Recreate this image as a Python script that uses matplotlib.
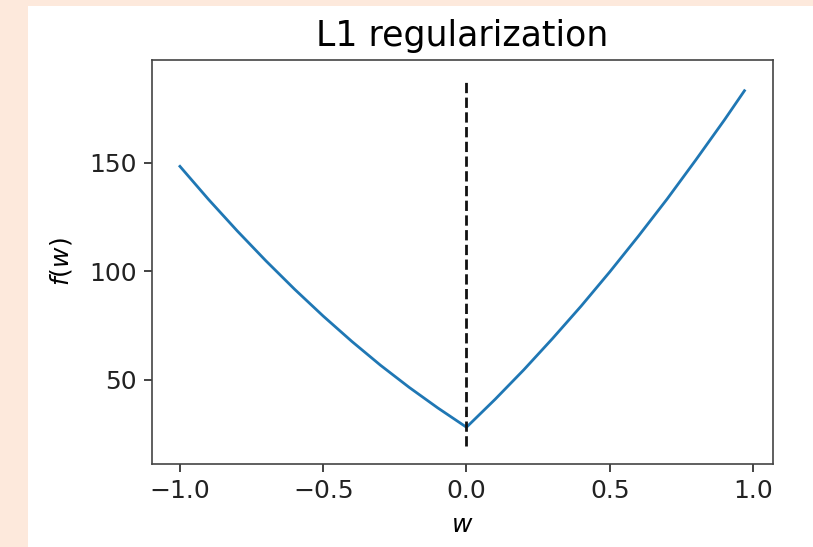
import matplotlib
matplotlib.use("Agg")
import matplotlib.pyplot as plt
from matplotlib.patches import Rectangle

# Data
w_values = [-1.0, -0.9, -0.8, -0.7, -0.6, -0.5, -0.4, -0.3, -0.2, -0.1, 0.0,
            0.1, 0.2, 0.3, 0.4, 0.5, 0.6, 0.7, 0.8, 0.9, 0.97]
f_values = [148.4, 133.1, 118.6, 104.8, 91.7, 79.3, 67.6, 56.6, 46.4, 36.9, 28.0,
            40.9, 54.5, 68.9, 83.9, 99.7, 116.2, 133.3, 151.3, 169.8, 183.3]
vline_x = 0.0
vline_ymin = 19.5
vline_ymax = 189.0
x_ticks = [-1.0, -0.5, 0.0, 0.5, 1.0]
y_ticks = [50, 100, 150]

plt.rcParams['font.family'] = ['DejaVu Sans']
plt.rcParams['mathtext.fontset'] = 'dejavusans'

fig = plt.figure(figsize=(8.13, 5.47), dpi=100)
fig.patch.set_facecolor('#fde9dc')
fig.patches.append(Rectangle((28 / 813, 0), 1 - 28 / 813, (547 - 6) / 547,
                             transform=fig.transFigure, facecolor='white',
                             edgecolor='none', zorder=-10))

ax = fig.add_axes([0.1866, 0.1517, 0.9504 - 0.1866, 0.8903 - 0.1517])
ax.set_zorder(5)
ax.plot(w_values, f_values, color='#1f77b4', lw=2.0)
ax.vlines(vline_x, vline_ymin, vline_ymax, colors='#111111', linestyles='dashed', lw=2.0)

ax.set_xticks(x_ticks)
ax.set_yticks(y_ticks)
ax.tick_params(labelsize=18, length=6, width=1.2, pad=5, colors='#222222')
for s in ax.spines.values():
    s.set_linewidth(1.2)
    s.set_color('#444444')

ax.set_title('L1 regularization', fontsize=25, pad=10)
ax.set_xlabel('$w$', fontsize=18, labelpad=7)
ax.set_ylabel('$f(w)$', fontsize=18, labelpad=11)

fig.savefig('out.png', dpi=100, facecolor=fig.get_facecolor())
